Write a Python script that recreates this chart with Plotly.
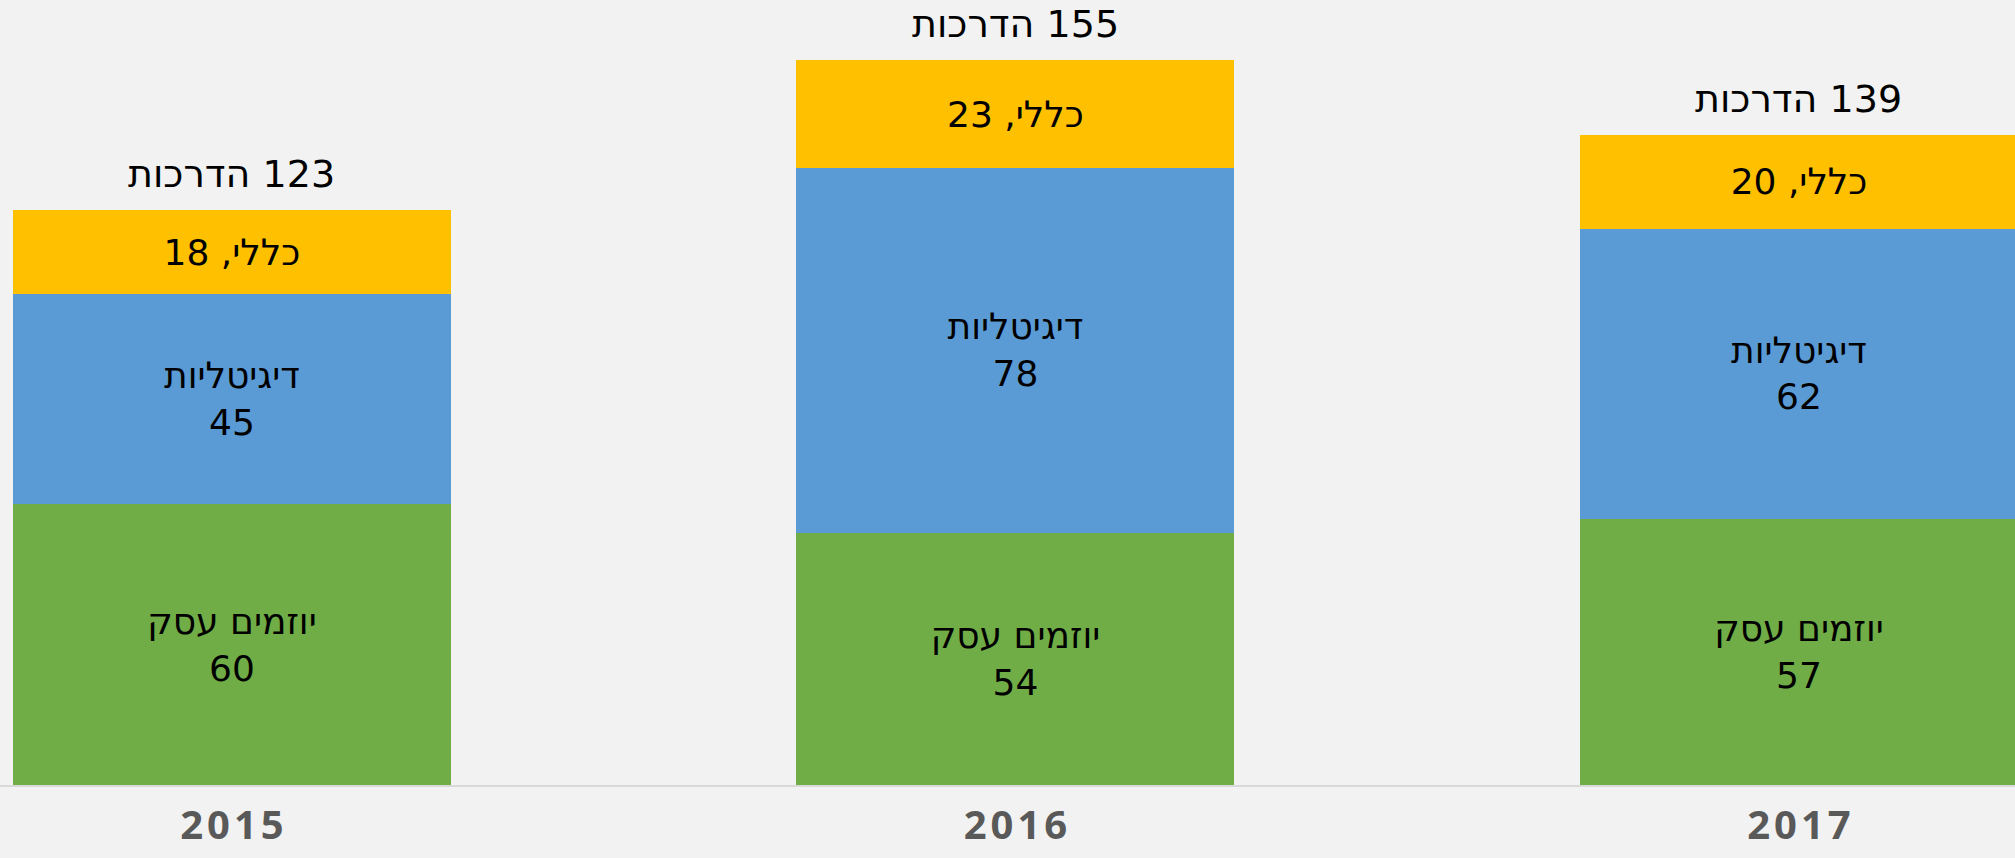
import plotly.graph_objects as go

# נתונים
years = ["2015", "2016", "2017"]
year_ticks = ["2\u200a0\u200a1\u200a5", "2\u200a0\u200a1\u200a6", "2\u200a0\u200a1\u200a7"]
entrepreneurs = [60, 54, 57]   # יוזמים עסק
digital = [45, 78, 62]         # דיגיטליות
general = [18, 23, 20]         # כללי

names = ["יוזמים עסק", "דיגיטליות", "כללי"]
colors = ["#70AD47", "#5B9BD5", "#FFC000"]

totals = [a + b + c for a, b, c in zip(entrepreneurs, digital, general)]

lbl_font = dict(family="DejaVu Sans", size=36, color="#000000")

fig = go.Figure()
fig.add_trace(go.Bar(x=years, y=entrepreneurs, name=names[0], marker_color=colors[0],
                     text=[f"{names[0]}<br>{v}" for v in entrepreneurs]))
fig.add_trace(go.Bar(x=years, y=digital, name=names[1], marker_color=colors[1],
                     text=[f"{names[1]}<br>{v}" for v in digital]))
fig.add_trace(go.Bar(x=years, y=general, name=names[2], marker_color=colors[2],
                     text=[f"{names[2]}, {v}" for v in general]))
fig.update_traces(width=0.559, marker_line_width=0, textposition="inside",
                  insidetextanchor="middle", textangle=0, textfont=lbl_font,
                  constraintext="none", hoverinfo="skip")

# סה"כ מעל כל עמודה (x לפי אינדקס הקטגוריה)
for i, t in enumerate(totals):
    fig.add_annotation(x=i, y=t, xref="x", yref="y", text=f"\u200f{t} הדרכות",
                       showarrow=False, yanchor="bottom", yshift=12,
                       font=dict(family="DejaVu Sans", size=38, color="#000000"))

fig.update_xaxes(type="category", range=[-0.296, 2.2757], showline=True, linecolor="#D9D9D9",
                 linewidth=2, showgrid=False, zeroline=False, ticks="", automargin=False,
                 tickvals=years, ticktext=year_ticks, ticklabelstandoff=4,
                 tickfont=dict(family="Open Sans", size=40, color="#595959", weight="bold"))
fig.update_yaxes(range=[0, 167.9], visible=False, showgrid=False, zeroline=False, automargin=False)
fig.update_layout(
    barmode="stack", width=2015, height=858, showlegend=False,
    margin=dict(l=0, r=0, t=0, b=73),
    paper_bgcolor="#F2F2F2", plot_bgcolor="#F2F2F2",
)
fig.write_html("out.html", config={"displayModeBar": False},
               post_script="document.body.style.margin='0';document.body.style.overflow='hidden';")
